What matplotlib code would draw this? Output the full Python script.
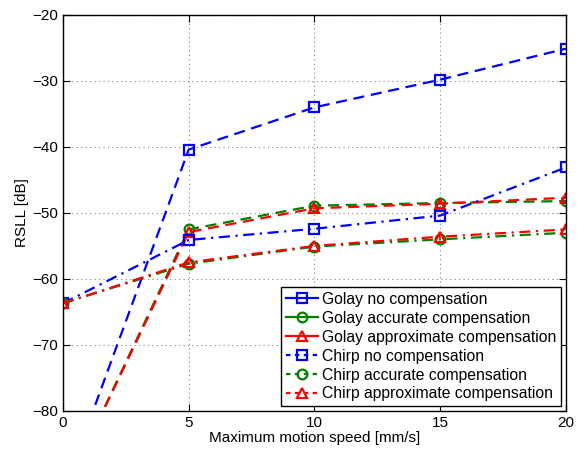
import matplotlib
matplotlib.use("Agg")
import matplotlib.pyplot as plt
from matplotlib.lines import Line2D

plt.rcParams['font.family'] = ['Liberation Sans', 'DejaVu Sans']

speed = [0, 5, 10, 15, 20]
golay_none = [-92.5, -40.4, -34.0, -29.8, -25.1]
golay_acc = [-92.8, -52.5, -48.9, -48.5, -48.2]
golay_approx = [-92.8, -52.9, -49.3, -48.6, -47.7]
chirp_none = [-63.7, -54.1, -52.4, -50.4, -43.1]
chirp_acc = [-63.7, -57.7, -55.1, -54.0, -53.0]
chirp_approx = [-63.7, -57.5, -55.0, -53.6, -52.5]

labels = ['Golay no compensation', 'Golay accurate compensation',
          'Golay approximate compensation', 'Chirp no compensation',
          'Chirp accurate compensation', 'Chirp approximate compensation']

fig = plt.figure(figsize=(5.77, 4.54), dpi=100)
ax = fig.add_axes([0.109, 0.095, 0.872, 0.872])

dash = (0, (5, 3))
dashdot = (0, (5, 2.5, 1, 2.5))
kw = dict(linewidth=1.6, markersize=7, markerfacecolor='none', markeredgewidth=1.6)

ax.plot(speed, golay_none, color='#0000ff', linestyle=dash, marker='s', **kw)
ax.plot(speed, golay_acc, color='#008000', linestyle=dash, marker='o', **kw)
ax.plot(speed, golay_approx, color='#ff0000', linestyle=dash, marker='^', **kw)
ax.plot(speed, chirp_none, color='#0000ff', linestyle=dashdot, marker='s', **kw)
ax.plot(speed, chirp_acc, color='#008000', linestyle=dashdot, marker='o', **kw)
ax.plot(speed, chirp_approx, color='#ff0000', linestyle=dashdot, marker='^', **kw)

handles = []
for c, m, ls in [('#0000ff', 's', '-'), ('#008000', 'o', '-'), ('#ff0000', '^', '-'),
                 ('#0000ff', 's', (0, (2, 2))), ('#008000', 'o', (0, (2, 2))),
                 ('#ff0000', '^', (0, (2, 2)))]:
    handles.append(Line2D([], [], color=c, marker=m, linestyle=ls, **kw))

ax.set_xlim(0, 20)
ax.set_ylim(-80, -20)
ax.set_xticks([0, 5, 10, 15, 20])
ax.set_yticks([-80, -70, -60, -50, -40, -30, -20])
ax.grid(True, linestyle=(0, (1, 3)), color='#808080', linewidth=0.8)
ax.tick_params(direction='in', top=True, right=True, labelsize=11, length=5)
for s in ax.spines.values():
    s.set_linewidth(1.0)
ax.set_xlabel('Maximum motion speed [mm/s]', fontsize=11, labelpad=1)
ax.set_ylabel('RSLL [dB]', fontsize=11, labelpad=2)

leg = ax.legend(handles, labels, loc='lower right', fontsize=11.3, fancybox=False,
                edgecolor='black', framealpha=1, handlelength=2.0,
                borderaxespad=0.3, labelspacing=0.25, handletextpad=0.3,
                borderpad=0.3)
leg.get_frame().set_linewidth(1.0)

fig.savefig('out.png', dpi=100)
